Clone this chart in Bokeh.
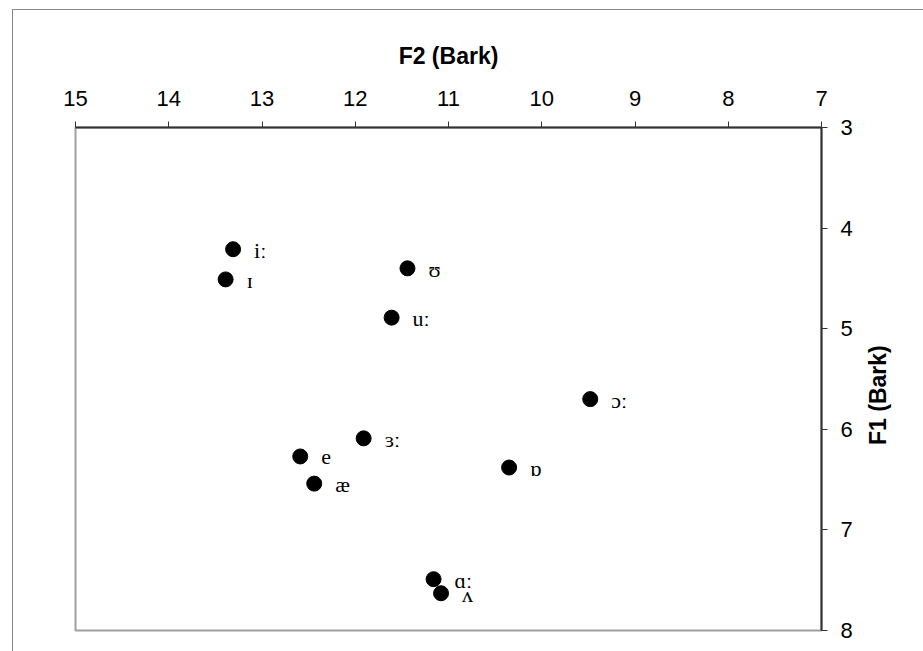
import math
from bokeh.plotting import figure
from bokeh.layouts import row
from bokeh.models import Range1d, ColumnDataSource, LinearAxis, FixedTicker
from bokeh.embed import file_html
from bokeh.resources import INLINE
from bokeh.core.properties import value

vowels = ["iː", "ɪ", "ʊ", "uː", "ɔː", "ɜː", "e", "æ", "ɒ", "ɑː", "ʌ"]
f2 = [13.31, 13.39, 11.44, 11.61, 9.48, 11.91, 12.59, 12.44, 10.35, 11.16, 11.08]
f1 = [4.21, 4.51, 4.40, 4.89, 5.70, 6.09, 6.27, 6.54, 6.38, 7.49, 7.63]
x_ticks = [15, 14, 13, 12, 11, 10, 9, 8, 7]
y_ticks = [3, 4, 5, 6, 7, 8]
x_title = "F2 (Bark)"
y_title = "F1 (Bark)"

src = ColumnDataSource(dict(x=f2, y=f1, t=vowels))

p = figure(width=853, height=641, output_backend="svg", toolbar_location=None,
           x_range=Range1d(15, 7), y_range=Range1d(8, 3),
           x_axis_location=None, y_axis_location=None,
           min_border_left=62, min_border_right=45, min_border_top=117, min_border_bottom=21)
p.xgrid.visible = False
p.ygrid.visible = False
p.outline_line_color = "#a0a0a0"
p.outline_line_width = 2
p.background_fill_color = "white"
p.border_fill_color = "white"

xa = LinearAxis(ticker=FixedTicker(ticks=x_ticks), axis_label=x_title)
ya = LinearAxis(ticker=FixedTicker(ticks=y_ticks))
for ax in (xa, ya):
    ax.axis_line_color = "#333333"
    ax.axis_line_width = 2
    ax.major_tick_line_color = "#333333"
    ax.major_tick_out = 6
    ax.major_tick_in = 0
    ax.minor_tick_out = 0
    ax.minor_tick_in = 0
    ax.major_label_text_font = "Liberation Sans"
    ax.major_label_text_font_size = "22px"
    ax.major_label_text_color = "black"
    ax.axis_label_text_font = "Liberation Sans"
    ax.axis_label_text_font_style = "bold"
    ax.axis_label_text_font_size = "23px"
    ax.axis_label_text_color = "black"
xa.major_label_standoff = 16
xa.axis_label_standoff = 19
ya.major_label_standoff = 13
p.add_layout(xa, "above")
p.add_layout(ya, "right")

p.scatter("x", "y", source=src, size=15, color="black")
p.text("x", "y", text="t", source=src, x_offset=21, y_offset=1, text_baseline="middle",
       text_font=value("Liberation Serif"), text_font_size="22px", text_color="black")

# narrow side panel carrying the right-hand axis title (reads bottom to top)
p2 = figure(width=57, height=641, output_backend="svg", toolbar_location=None,
            x_range=Range1d(0, 1), y_range=Range1d(0, 1),
            x_axis_location=None, y_axis_location=None,
            min_border_left=0, min_border_right=0, min_border_top=0, min_border_bottom=0)
p2.xgrid.visible = False
p2.ygrid.visible = False
p2.outline_line_color = None
p2.background_fill_color = "white"
p2.border_fill_color = "white"
p2.text(x=[0.2], y=[0.468], text=[y_title], angle=math.pi / 2,
        text_align="center", text_baseline="middle",
        text_font=value("Liberation Sans"), text_font_style="bold",
        text_font_size="23px", text_color="black")

layout = row(p, p2, spacing=0)
layout.styles = {"margin-left": "12px", "margin-top": "9px",
                 "border-left": "1px solid #888", "border-top": "1px solid #888"}

open("out.html", "w").write(file_html(layout, INLINE))
